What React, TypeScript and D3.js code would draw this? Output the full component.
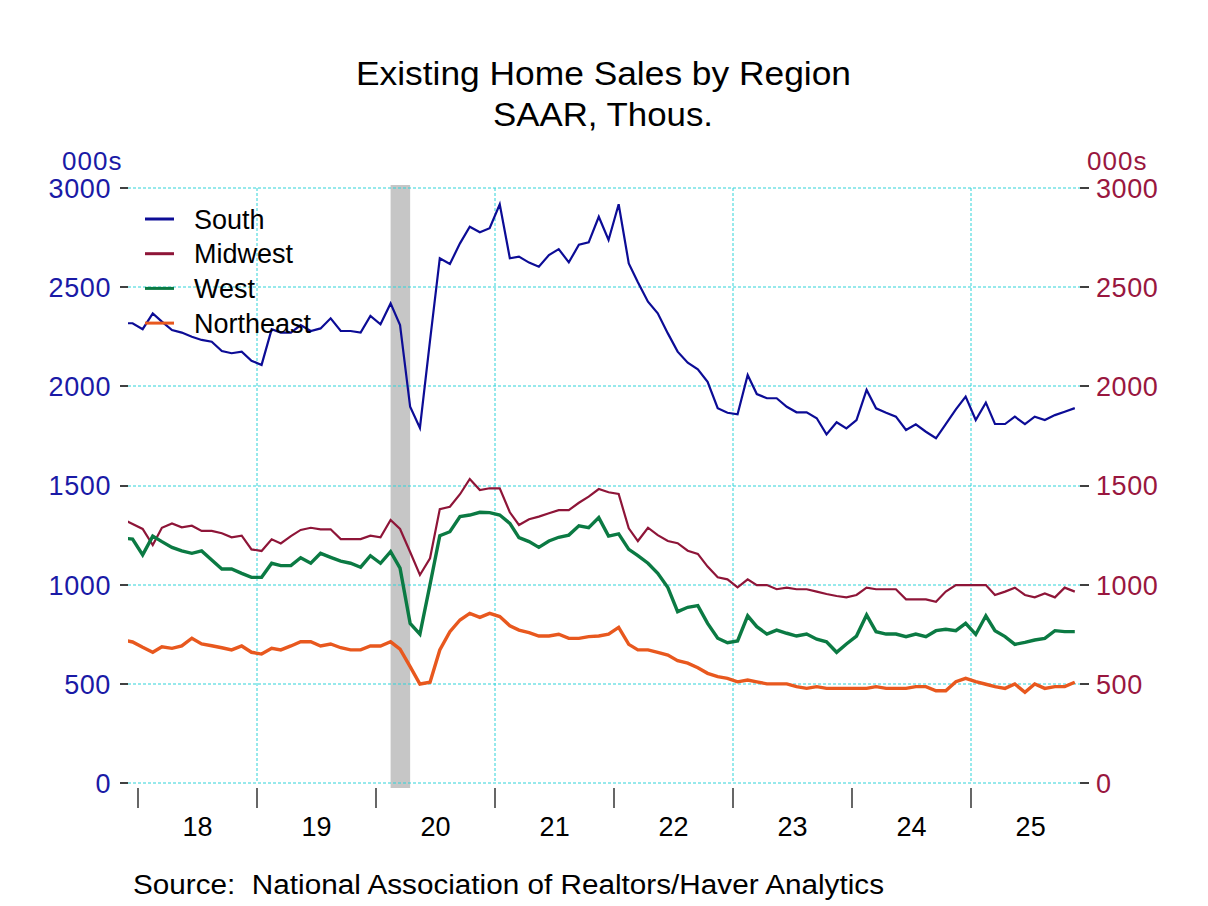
import React from 'react';
import * as d3 from 'd3';

// monthly, Nov 2017 .. Nov 2025 (first point falls outside the plot and is clipped)
const startMonth = new Date(2017, 10, 15);

const south = [
  2318, 2318,
  2288, 2368, 2326, 2284, 2271, 2250, 2234, 2225, 2178, 2167, 2175, 2129,
  2108, 2288, 2271, 2271, 2309, 2279, 2292, 2343, 2279, 2279, 2271, 2355,
  2313, 2418, 2309, 1897, 1790, 2230, 2646, 2617, 2721, 2805, 2777, 2797,
  2918, 2646, 2654, 2624, 2603, 2662, 2692, 2625, 2714, 2726, 2855, 2738,
  2918, 2620, 2525, 2427, 2368, 2267, 2175, 2119, 2086, 2023, 1890, 1867,
  1859, 2057, 1961, 1940, 1940, 1897, 1869, 1869, 1839, 1758, 1819, 1788,
  1830, 1982, 1889, 1867, 1847, 1780, 1808, 1771, 1738, 1810, 1884, 1948,
  1830, 1918, 1810, 1810, 1847, 1810, 1847, 1830, 1855, 1872, 1890,
];
const midwest = [
  1330, 1306,
  1281, 1200, 1287, 1309, 1289, 1297, 1271, 1271, 1259, 1239, 1247, 1178,
  1170, 1229, 1208, 1245, 1276, 1287, 1279, 1279, 1230, 1230, 1230, 1247,
  1239, 1326, 1281, 1165, 1049, 1133, 1381, 1393, 1456, 1533, 1477, 1486,
  1486, 1365, 1301, 1330, 1343, 1360, 1376, 1376, 1413, 1444, 1482, 1466,
  1457, 1284, 1220, 1287, 1250, 1220, 1209, 1171, 1155, 1091, 1037, 1027,
  987, 1027, 998, 998, 977, 985, 977, 977, 965, 953, 943, 936,
  948, 985, 977, 977, 977, 926, 926, 926, 914, 965, 998, 998,
  998, 998, 948, 965, 985, 948, 936, 956, 936, 985, 965,
];
const west = [
  1235, 1230,
  1150, 1245, 1217, 1188, 1170, 1158, 1170, 1124, 1079, 1079, 1057, 1037,
  1037, 1108, 1096, 1096, 1136, 1108, 1158, 1138, 1119, 1108, 1088, 1146,
  1108, 1166, 1083, 805, 751, 1000, 1247, 1267, 1343, 1351, 1365, 1363,
  1351, 1309, 1237, 1217, 1188, 1220, 1239, 1250, 1297, 1287, 1338, 1245,
  1256, 1178, 1146, 1108, 1057, 985, 864, 886, 894, 805, 730, 707,
  716, 843, 788, 751, 771, 755, 741, 751, 725, 712, 659, 701,
  741, 847, 763, 751, 751, 738, 751, 738, 768, 775, 768, 805,
  749, 843, 768, 738, 699, 709, 721, 729, 768, 763, 763,
];
const northeast = [
  721, 711,
  684, 659, 687, 679, 691, 730, 701, 692, 682, 671, 691, 659,
  650, 679, 671, 691, 712, 712, 691, 701, 682, 671, 671, 691,
  691, 712, 675, 587, 499, 508, 671, 763, 822, 855, 835, 855,
  839, 793, 771, 758, 741, 741, 750, 729, 729, 738, 741, 751,
  785, 699, 671, 671, 659, 645, 617, 604, 581, 553, 536, 528,
  510, 519, 510, 500, 500, 500, 486, 477, 486, 477, 477, 477,
  477, 477, 486, 477, 477, 477, 486, 486, 465, 465, 511, 528,
  511, 498, 486, 477, 499, 457, 499, 477, 486, 486, 508,
];

const yearLabels = ['18', '19', '20', '21', '22', '23', '24', '25'];
const yTicks = [0, 500, 1000, 1500, 2000, 2500, 3000];
const recession = [new Date(2020, 1, 15), new Date(2020, 3, 15)];

const series = [
  { name: 'South', values: south, color: '#0c0c96', width: 2.2 },
  { name: 'Midwest', values: midwest, color: '#8e1538', width: 2.2 },
  { name: 'West', values: west, color: '#0b7a43', width: 3.4 },
  { name: 'Northeast', values: northeast, color: '#e8581e', width: 3.4 },
];

const W = 1208;
const H = 906;
const left = 128;
const right = 1080;
const top = 188;
const bottom = 783;
const font = '"Liberation Sans", Arial, sans-serif';

// whole-pixel positions keep the dashed grid crisp
const crisp = (v: number) => Math.round(v);

export default function App() {
  const x = d3.scaleTime()
    .domain([new Date(2017, 11, 1), new Date(2025, 11, 1)])
    .range([left, right]);
  const y = d3.scaleLinear().domain([0, 3000]).range([bottom, top]);

  const dates = south.map((_, i) => d3.timeMonth.offset(startMonth, i));
  const line = d3.line<number>()
    .x((_, i) => x(dates[i]))
    .y(d => y(d));

  const yearStarts = d3.range(2018, 2026).map(yr => new Date(yr, 0, 1));
  const gridYears = [2019, 2021, 2023, 2025].map(yr => new Date(yr, 0, 1));

  return (
    <svg width={W} height={H} viewBox={`0 0 ${W} ${H}`} style={{ display: 'block', marginTop: -8, marginLeft: -8 }}>
      <defs>
        <clipPath id="plot">
          <rect x={left} y={0} width={right - left} height={H} />
        </clipPath>
      </defs>
      <rect width={W} height={H} fill="#fff" />

      <text x={356} y={85} fontFamily={font} fontSize={34} textLength={495} lengthAdjust="spacingAndGlyphs">Existing Home Sales by Region</text>
      <text x={493} y={126} fontFamily={font} fontSize={34} textLength={220} lengthAdjust="spacingAndGlyphs">SAAR, Thous.</text>

      {/* recession shading */}
      <rect x={x(recession[0])} y={185} width={x(recession[1]) - x(recession[0])} height={603} fill="#c6c6c6" />

      {/* grid */}
      {yTicks.map(t => (
        <line key={'h' + t} x1={left} x2={right} y1={crisp(y(t))} y2={crisp(y(t))} stroke="#2fd3d8" strokeWidth={1} strokeDasharray="3,2" />
      ))}
      {gridYears.map(d => (
        <line key={'v' + d.getFullYear()} x1={crisp(x(d))} x2={crisp(x(d))} y1={top} y2={bottom} stroke="#2fd3d8" strokeWidth={1} strokeDasharray="3,2" />
      ))}

      {/* left axis */}
      <text x={62} y={170} fontFamily={font} fontSize={26} letterSpacing={1} fill="#1a1aa6">000s</text>
      {yTicks.map(t => (
        <g key={'l' + t}>
          <line x1={120} x2={left} y1={crisp(y(t))} y2={crisp(y(t))} stroke="#000" strokeWidth={1.5} />
          <text x={111} y={y(t)} dy="0.37em" textAnchor="end" fontFamily={font} fontSize={27} letterSpacing={0.6} fill="#1a1aa6">{t}</text>
        </g>
      ))}

      {/* right axis */}
      <text x={1087} y={170} fontFamily={font} fontSize={26} letterSpacing={1} fill="#99173f">000s</text>
      {yTicks.map(t => (
        <g key={'r' + t}>
          <line x1={right} x2={1089} y1={crisp(y(t))} y2={crisp(y(t))} stroke="#000" strokeWidth={1.5} />
          <text x={1096} y={y(t)} dy="0.37em" textAnchor="start" fontFamily={font} fontSize={27} letterSpacing={0.6} fill="#99173f">{t}</text>
        </g>
      ))}

      {/* bottom axis */}
      {yearStarts.map(d => (
        <line key={'t' + d.getFullYear()} x1={crisp(x(d))} x2={crisp(x(d))} y1={788} y2={808} stroke="#000" strokeWidth={1.2} />
      ))}
      {yearLabels.map((lab, i) => {
        const a = new Date(2018 + i, 0, 1);
        const b = new Date(2019 + i, 0, 1);
        return (
          <text key={'x' + lab} x={(x(a) + x(b)) / 2} y={836} textAnchor="middle" fontFamily={font} fontSize={27}>{lab}</text>
        );
      })}

      {/* series */}
      <g clipPath="url(#plot)">
        {series.map(s => (
          <path key={s.name} d={line(s.values) || ''} fill="none" stroke={s.color} strokeWidth={s.width} strokeLinejoin="miter" />
        ))}
      </g>

      {/* legend */}
      {series.map((s, i) => (
        <g key={'lg' + s.name}>
          <line x1={145} x2={174} y1={219 + i * 34.7} y2={219 + i * 34.7} stroke={s.color} strokeWidth={3} />
          <text x={194} y={219 + i * 34.7} dy="0.36em" fontFamily={font} fontSize={27}>{s.name}</text>
        </g>
      ))}

      <text x={133} y={894} fontFamily={font} fontSize={27} xmlSpace="preserve" textLength={751} lengthAdjust="spacingAndGlyphs">Source:  National Association of Realtors/Haver Analytics</text>
    </svg>
  );
}
